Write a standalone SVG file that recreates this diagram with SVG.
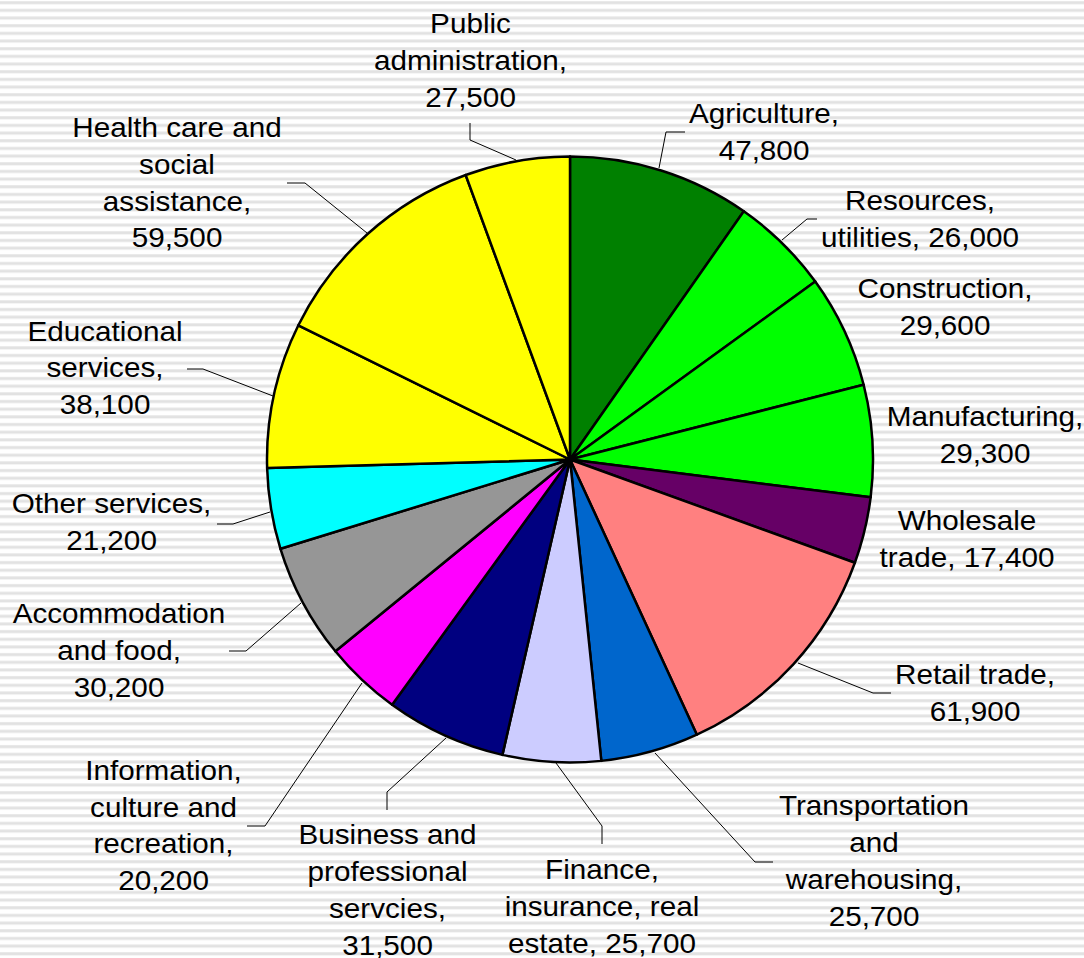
<svg xmlns="http://www.w3.org/2000/svg" width="1084" height="958" viewBox="0 0 1084 958">
<defs>
<pattern id="stripes" patternUnits="userSpaceOnUse" x="0" y="0" width="20" height="7.67">
<rect x="0" y="0" width="20" height="7.67" fill="#ffffff"/>
<rect x="0" y="1.2" width="20" height="3" fill="#e2e2e2"/>
</pattern>
</defs>
<style>
.s{stroke:#000;stroke-width:2.5;stroke-linejoin:round}
.lbl{font-family:"Liberation Sans",Arial,Helvetica,sans-serif;font-size:28px;fill:#000;text-anchor:middle}
.ld{fill:none;stroke:#000;stroke-width:1}
</style>
<rect x="0" y="0" width="1084" height="958" fill="url(#stripes)"/>
<g id="slice-agriculture">
<path class="s" fill="#008000" d="M570 459.5 L570 156.5 A303 303 0 0 1 743.81 211.3 Z"/>
<text class="lbl" transform="translate(764 0) scale(1.06 1)"><tspan x="0" y="123">Agriculture,</tspan><tspan x="0" y="160">47,800</tspan></text>
</g>
<g id="slice-resources">
<path class="s" fill="#00ff00" d="M570 459.5 L743.81 211.3 A303 303 0 0 1 815.27 281.59 Z"/>
<text class="lbl" transform="translate(920 0) scale(1.06 1)"><tspan x="0" y="210">Resources,</tspan><tspan x="0" y="247">utilities, 26,000</tspan></text>
</g>
<g id="slice-construction">
<path class="s" fill="#00ff00" d="M570 459.5 L815.27 281.59 A303 303 0 0 1 863.64 384.76 Z"/>
<text class="lbl" transform="translate(945 0) scale(1.06 1)"><tspan x="0" y="298">Construction,</tspan><tspan x="0" y="335">29,600</tspan></text>
</g>
<g id="slice-manufacturing">
<path class="s" fill="#00ff00" d="M570 459.5 L863.64 384.76 A303 303 0 0 1 870.63 497.36 Z"/>
<text class="lbl" transform="translate(985 0) scale(1.06 1)"><tspan x="0" y="426">Manufacturing,</tspan><tspan x="0" y="463">29,300</tspan></text>
</g>
<g id="slice-wholesale">
<path class="s" fill="#660066" d="M570 459.5 L870.63 497.36 A303 303 0 0 1 854.87 562.73 Z"/>
<text class="lbl" transform="translate(967 0) scale(1.06 1)"><tspan x="0" y="530">Wholesale</tspan><tspan x="0" y="567">trade, 17,400</tspan></text>
</g>
<g id="slice-retail">
<path class="s" fill="#ff8080" d="M570 459.5 L854.87 562.73 A303 303 0 0 1 696.85 734.67 Z"/>
<text class="lbl" transform="translate(975 0) scale(1.06 1)"><tspan x="0" y="684">Retail trade,</tspan><tspan x="0" y="721">61,900</tspan></text>
</g>
<g id="slice-transportation">
<path class="s" fill="#0066cc" d="M570 459.5 L696.85 734.67 A303 303 0 0 1 601.31 760.88 Z"/>
<text class="lbl" transform="translate(874 0) scale(1.06 1)"><tspan x="0" y="815">Transportation</tspan><tspan x="0" y="852">and</tspan><tspan x="0" y="889">warehousing,</tspan><tspan x="0" y="926">25,700</tspan></text>
</g>
<g id="slice-finance">
<path class="s" fill="#ccccff" d="M570 459.5 L601.31 760.88 A303 303 0 0 1 502.41 754.87 Z"/>
<text class="lbl" transform="translate(602 0) scale(1.06 1)"><tspan x="0" y="879">Finance,</tspan><tspan x="0" y="916">insurance, real</tspan><tspan x="0" y="953">estate, 25,700</tspan></text>
</g>
<g id="slice-business">
<path class="s" fill="#000080" d="M570 459.5 L502.41 754.87 A303 303 0 0 1 392.1 704.78 Z"/>
<text class="lbl" transform="translate(387.5 0) scale(1.06 1)"><tspan x="0" y="844">Business and</tspan><tspan x="0" y="881">professional</tspan><tspan x="0" y="918">servcies,</tspan><tspan x="0" y="955">31,500</tspan></text>
</g>
<g id="slice-information">
<path class="s" fill="#ff00ff" d="M570 459.5 L392.1 704.78 A303 303 0 0 1 335.39 651.25 Z"/>
<text class="lbl" transform="translate(163.5 0) scale(1.06 1)"><tspan x="0" y="780">Information,</tspan><tspan x="0" y="817">culture and</tspan><tspan x="0" y="853">recreation,</tspan><tspan x="0" y="890">20,200</tspan></text>
</g>
<g id="slice-accommodation">
<path class="s" fill="#969696" d="M570 459.5 L335.39 651.25 A303 303 0 0 1 280.45 548.77 Z"/>
<text class="lbl" transform="translate(119 0) scale(1.06 1)"><tspan x="0" y="623">Accommodation</tspan><tspan x="0" y="660">and food,</tspan><tspan x="0" y="697">30,200</tspan></text>
</g>
<g id="slice-other">
<path class="s" fill="#00ffff" d="M570 459.5 L280.45 548.77 A303 303 0 0 1 267.12 468.02 Z"/>
<text class="lbl" transform="translate(111.5 0) scale(1.06 1)"><tspan x="0" y="513">Other services,</tspan><tspan x="0" y="550">21,200</tspan></text>
</g>
<g id="slice-educational">
<path class="s" fill="#ffff00" d="M570 459.5 L267.12 468.02 A303 303 0 0 1 298.36 325.27 Z"/>
<text class="lbl" transform="translate(105 0) scale(1.06 1)"><tspan x="0" y="341">Educational</tspan><tspan x="0" y="377">services,</tspan><tspan x="0" y="414">38,100</tspan></text>
</g>
<g id="slice-health">
<path class="s" fill="#ffff00" d="M570 459.5 L298.36 325.27 A303 303 0 0 1 465.68 175.02 Z"/>
<text class="lbl" transform="translate(177 0) scale(1.06 1)"><tspan x="0" y="137">Health care and</tspan><tspan x="0" y="174">social</tspan><tspan x="0" y="211">assistance,</tspan><tspan x="0" y="247">59,500</tspan></text>
</g>
<g id="slice-public">
<path class="s" fill="#ffff00" d="M570 459.5 L465.68 175.02 A303 303 0 0 1 570 156.5 Z"/>
<text class="lbl" transform="translate(470.5 0) scale(1.06 1)"><tspan x="0" y="33">Public</tspan><tspan x="0" y="70">administration,</tspan><tspan x="0" y="107">27,500</tspan></text>
</g>
<g id="connectors">
<polyline class="ld" points="470,123 470,140 516,160"/>
<polyline class="ld" points="685,132 666,132 659,168"/>
<polyline class="ld" points="817,219 807,219 782,240"/>
<polyline class="ld" points="891,693 873,693 798,663"/>
<polyline class="ld" points="773,862 755,862 655,753"/>
<polyline class="ld" points="602,844 602,826 556,763"/>
<polyline class="ld" points="387,810 387,792 446,738"/>
<polyline class="ld" points="247,826 265,826 362,683"/>
<polyline class="ld" points="229,651 246,651 301,603"/>
<polyline class="ld" points="217,524 233,524 270,512"/>
<polyline class="ld" points="187,369 203,369 273,396"/>
<polyline class="ld" points="287,183 305,183 367,233"/>
</g>
</svg>
